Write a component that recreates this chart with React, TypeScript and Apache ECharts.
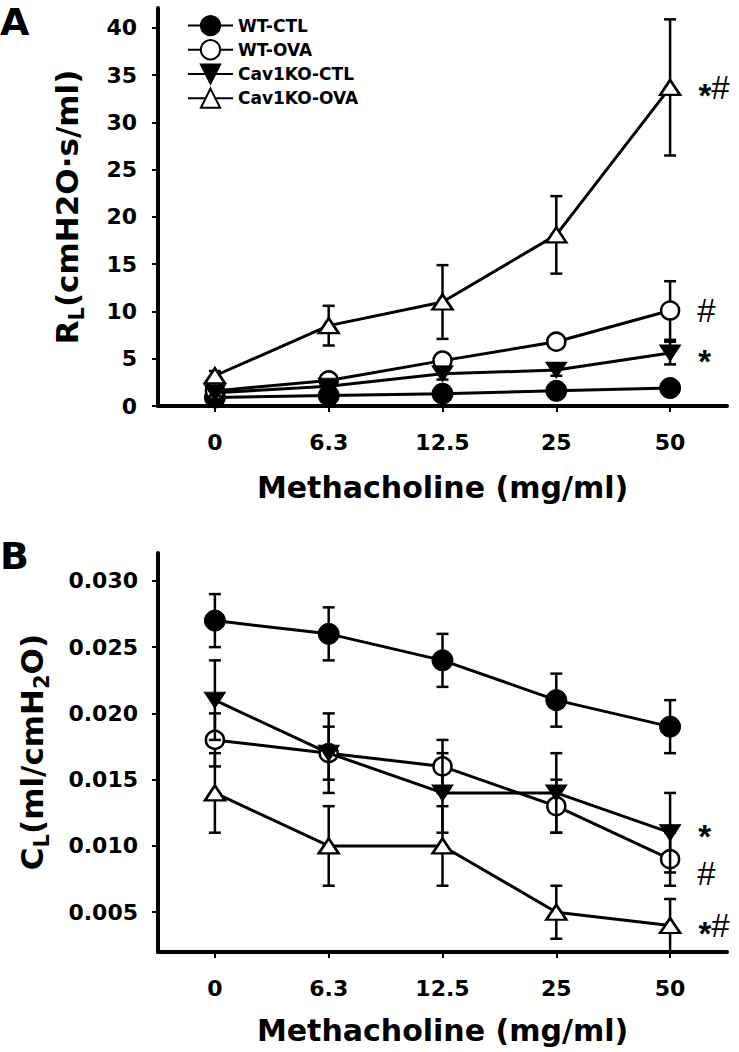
import React, { useEffect, useRef } from 'react';
import * as echarts from 'echarts';

// ---------- data ----------
const doses = ['0', '6.3', '12.5', '25', '50'];
const groupNames = ['WT-CTL', 'WT-OVA', 'Cav1KO-CTL', 'Cav1KO-OVA'];

// Panel A: lung resistance RL (cmH2O·s/ml)
const rlWtCtl = [0.9, 1.1, 1.3, 1.6, 1.9];
const rlWtCtlErr = [0.2, 0.3, 0.4, 0.5, 0.4];
const rlWtOva = [1.6, 2.7, 4.8, 6.8, 10.1];
const rlWtOvaErr = [0.3, 0.5, 0.8, 0.7, 3.1];
const rlKoCtl = [1.4, 2.1, 3.4, 3.8, 5.6];
const rlKoCtlErr = [0.3, 0.4, 0.6, 0.6, 1.2];
const rlKoOva = [3.2, 8.5, 11.0, 18.1, 33.7];
const rlKoOvaErr = [0.5, 2.1, 3.9, 4.1, 7.2];
const rlNotes = ['', '#', '*', '*#'];
const rlTicks = [0, 5, 10, 15, 20, 25, 30, 35, 40];

// Panel B: lung compliance CL (ml/cmH2O)
const clWtCtl = [0.027, 0.026, 0.024, 0.021, 0.019];
const clWtCtlErr = [0.002, 0.002, 0.002, 0.002, 0.002];
const clWtOva = [0.018, 0.017, 0.016, 0.013, 0.009];
const clWtOvaErr = [0.002, 0.002, 0.002, 0.002, 0.002];
const clKoCtl = [0.021, 0.017, 0.014, 0.014, 0.011];
const clKoCtlErr = [0.003, 0.003, 0.003, 0.003, 0.003];
const clKoOva = [0.014, 0.010, 0.010, 0.005, 0.004];
const clKoOvaErr = [0.003, 0.003, 0.003, 0.002, 0.002];
const clNotes = ['', '#', '*', '*#'];
const clTicks = [0.005, 0.01, 0.015, 0.02, 0.025, 0.03];

// ---------- styles ----------
const FONT = 'DejaVu Sans';
const markerStyles: any[] = [
  { symbol: 'circle', symbolSize: 21, symbolRotate: 0, itemStyle: { color: '#000', borderColor: '#000', borderWidth: 1 } },
  { symbol: 'circle', symbolSize: 18, symbolRotate: 0, itemStyle: { color: '#fff', borderColor: '#000', borderWidth: 2.5 } },
  { symbol: 'triangle', symbolSize: [21, 16], symbolRotate: 180, itemStyle: { color: '#000', borderColor: '#000', borderWidth: 1 } },
  { symbol: 'triangle', symbolSize: [20, 15], symbolRotate: 0, itemStyle: { color: '#fff', borderColor: '#000', borderWidth: 2.5 } },
];

const renderErr = (params: any, api: any) => {
  const x = api.value(0);
  const v = api.value(1);
  const e = api.value(2);
  const top = api.coord([x, v + e]);
  const bot = api.coord([x, v - e]);
  const hw = 6;
  const style = { stroke: '#000', lineWidth: 2.5 };
  return {
    type: 'group',
    children: [
      { type: 'line', shape: { x1: top[0], y1: top[1], x2: bot[0], y2: bot[1] }, style },
      { type: 'line', shape: { x1: top[0] - hw, y1: top[1], x2: top[0] + hw, y2: top[1] }, style },
      { type: 'line', shape: { x1: bot[0] - hw, y1: bot[1], x2: bot[0] + hw, y2: bot[1] }, style },
    ],
  };
};

const noteRich = {
  s: { fontFamily: 'Liberation Sans', fontWeight: 'bold', fontSize: 33, lineHeight: 18, color: '#000', padding: [16, 0, 0, 0], verticalAlign: 'middle' },
  h: { fontFamily: 'Liberation Sans', fontSize: 33, lineHeight: 26, color: '#000', verticalAlign: 'middle' },
};
const richNote = (n: string) =>
  n.split('').map((c) => (c === '*' ? '{s|*}' : '{h|#}')).join('');

function buildPanel(g: number, values: number[][], errs: number[][], notes: string[], offsets: number[][]) {
  const out: any[] = [];
  values.forEach((vals, k) => {
    out.push({
      type: 'custom',
      name: `err-${g}-${k}`,
      xAxisIndex: g,
      yAxisIndex: g,
      z: 2 + 2 * k,
      silent: true,
      renderItem: renderErr,
      encode: { x: 0, y: 1 },
      data: vals.map((v, i) => [i, v, errs[k][i]]),
    });
    const m = markerStyles[k];
    out.push({
      type: 'line',
      name: groupNames[k],
      xAxisIndex: g,
      yAxisIndex: g,
      z: 3 + 2 * k,
      silent: true,
      symbol: m.symbol,
      symbolSize: m.symbolSize,
      symbolRotate: m.symbolRotate,
      showAllSymbol: true,
      itemStyle: m.itemStyle,
      lineStyle: { color: '#000', width: 3 },
      data: vals.map((v, i) =>
        i === vals.length - 1 && notes[k]
          ? {
              value: v,
              label: {
                show: true,
                position: 'right',
                distance: 17,
                offset: offsets[k],
                formatter: richNote(notes[k]),
                rich: noteRich,
              },
            }
          : v
      ),
    });
  });
  return out;
}

const axisText = { fontFamily: FONT, fontWeight: 'bold', fontSize: 22, color: '#000' };

function xAxisFor(g: number, gap: number) {
  return {
    type: 'category',
    gridIndex: g,
    data: doses,
    boundaryGap: true,
    axisLine: { show: true, lineStyle: { color: '#000', width: 4 } },
    axisTick: { show: true, alignWithLabel: true, length: 6, lineStyle: { color: '#000', width: 2 } },
    axisLabel: { ...axisText, margin: 25 },
    splitLine: { show: false },
    name: 'Methacholine (mg/ml)',
    nameLocation: 'middle',
    nameGap: gap,
    nameTextStyle: { fontFamily: FONT, fontWeight: 'bold', fontSize: 30, color: '#000' },
  };
}

export default function App() {
  const ref = useRef<HTMLDivElement>(null);
  useEffect(() => {
    if (!ref.current) return;
    const chart = echarts.init(ref.current, undefined, { renderer: 'svg' });
    const yTitleRich = {
      m: { fontFamily: FONT, fontWeight: 'bold', fontSize: 31, lineHeight: 36, color: '#000', verticalAlign: 'middle' },
      s: { fontFamily: FONT, fontWeight: 'bold', fontSize: 21, lineHeight: 24, color: '#000', padding: [20, 0, 0, 0], verticalAlign: 'middle' },
    };
    chart.setOption({
      animation: false,
      backgroundColor: '#fff',
      grid: [
        { left: 158, top: 8, width: 569, height: 398 },
        { left: 158, top: 553, width: 569, height: 399 },
      ],
      legend: {
        orient: 'vertical',
        left: 187,
        top: 15,
        padding: 0,
        itemWidth: 45,
        itemHeight: 24,
        itemGap: 3,
        selectedMode: false,
        data: groupNames,
        textStyle: { fontFamily: FONT, fontWeight: 'bold', fontSize: 17, color: '#000' },
      },
      xAxis: [xAxisFor(0, 66), xAxisFor(1, 63)],
      yAxis: [
        {
          type: 'value',
          gridIndex: 0,
          min: 0,
          max: 42.1,
          axisLine: { show: true, lineStyle: { color: '#000', width: 4 } },
          axisTick: { show: true, length: 6, lineStyle: { color: '#000', width: 2 }, customValues: rlTicks },
          axisLabel: { ...axisText, margin: 21, customValues: rlTicks },
          splitLine: { show: false },
        },
        {
          type: 'value',
          gridIndex: 1,
          min: 0.002,
          max: 0.0321,
          axisLine: { show: true, lineStyle: { color: '#000', width: 4 } },
          axisTick: { show: true, length: 6, lineStyle: { color: '#000', width: 2 }, customValues: clTicks },
          axisLabel: { ...axisText, margin: 20, customValues: clTicks, formatter: (v: number) => v.toFixed(3) },
          splitLine: { show: false },
        },
      ],
      graphic: [
        { type: 'text', x: 0, y: 22, style: { text: 'A', fontFamily: FONT, fontWeight: 'bold', fontSize: 38, fill: '#000', align: 'left', verticalAlign: 'middle' } },
        { type: 'text', x: 0, y: 556, style: { text: 'B', fontFamily: FONT, fontWeight: 'bold', fontSize: 38, fill: '#000', align: 'left', verticalAlign: 'middle' } },
        {
          type: 'text', x: 67, y: 207, rotation: Math.PI / 2,
          style: { text: '{m|R}{s|L}{m|(cmH2O·s/ml)}', rich: yTitleRich, align: 'center', verticalAlign: 'middle' },
        },
        {
          type: 'text', x: 32, y: 752, rotation: Math.PI / 2,
          style: { text: '{m|C}{s|L}{m|(ml/cmH}{s|2}{m|O)}', rich: yTitleRich, align: 'center', verticalAlign: 'middle' },
        },
      ],
      series: [
        ...buildPanel(
          0,
          [rlWtCtl, rlWtOva, rlKoCtl, rlKoOva],
          [rlWtCtlErr, rlWtOvaErr, rlKoCtlErr, rlKoOvaErr],
          rlNotes,
          [[0, 0], [0, 0], [0, 0], [0, 0]]
        ),
        ...buildPanel(
          1,
          [clWtCtl, clWtOva, clKoCtl, clKoOva],
          [clWtCtlErr, clWtOvaErr, clKoCtlErr, clKoOvaErr],
          clNotes,
          [[0, 0], [0, 14], [0, -4], [0, 0]]
        ),
      ],
    });
    return () => chart.dispose();
  }, []);
  return <div ref={ref} style={{ position: 'absolute', left: 0, top: 0, width: 739, height: 1052 }} />;
}
